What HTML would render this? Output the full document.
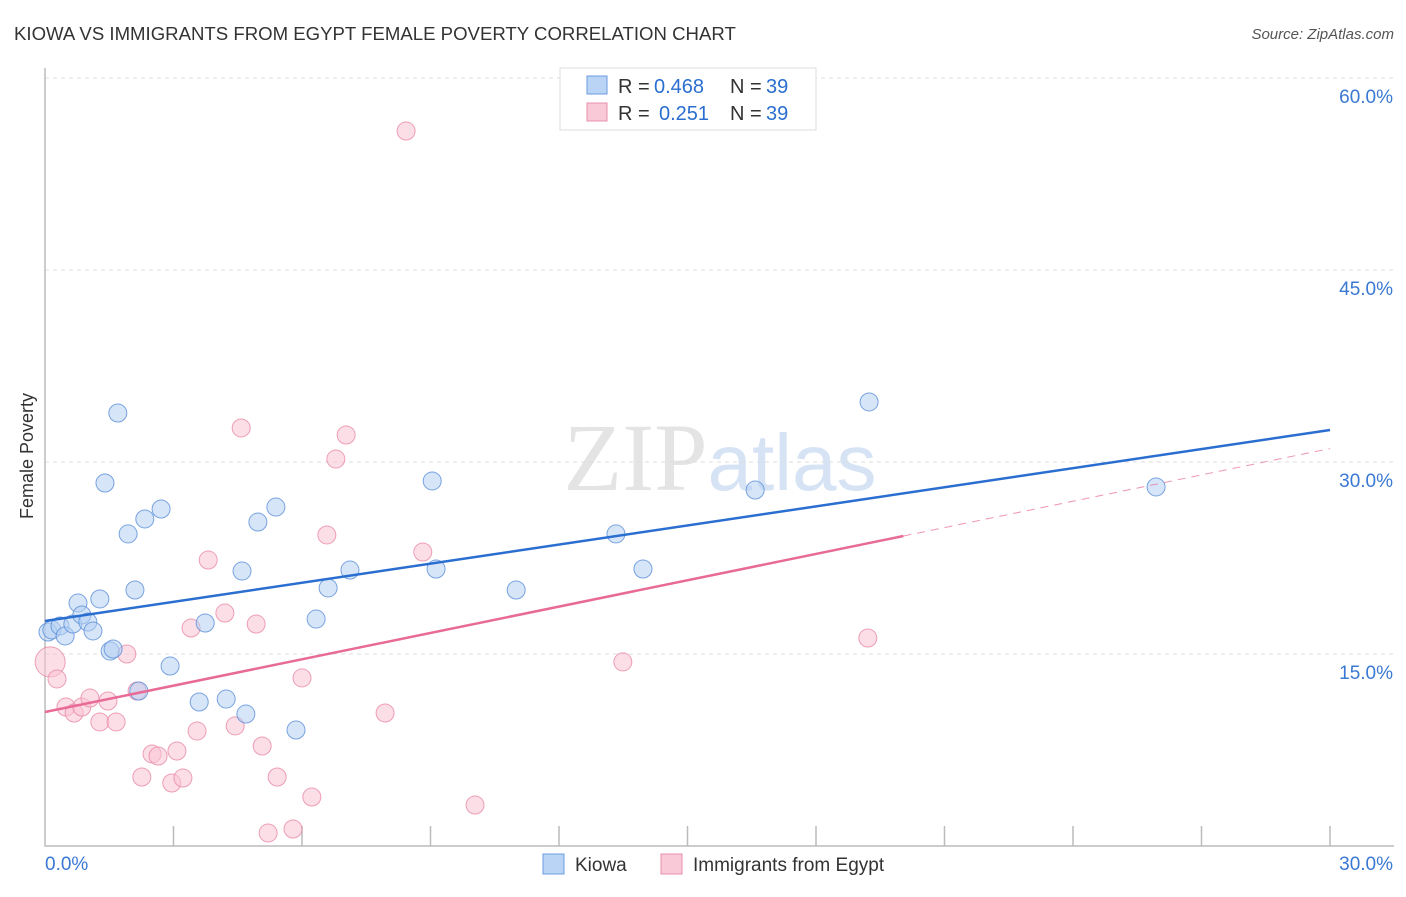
<!DOCTYPE html>
<html><head><meta charset="utf-8"><style>
body{margin:0;background:#fff;font-family:"Liberation Sans",sans-serif;}
svg text{font-family:"Liberation Sans",sans-serif;}
</style></head><body>
<svg id="chart" width="1406" height="892" xmlns="http://www.w3.org/2000/svg">
<text x="14" y="40" font-size="18.6" fill="#333">KIOWA VS IMMIGRANTS FROM EGYPT FEMALE POVERTY CORRELATION CHART</text>
<text x="1394" y="39" font-size="15" fill="#555" text-anchor="end" font-style="italic">Source: ZipAtlas.com</text>
<text x="720" y="490" font-size="96" text-anchor="middle" fill="#e4e4e4"><tspan font-family="Liberation Serif">ZIP</tspan><tspan fill="#d6e3f5" font-size="80">atlas</tspan></text>
<text transform="translate(33,456) rotate(-90)" font-size="18" fill="#333" text-anchor="middle">Female Poverty</text>
<g id="grid"></g><g id="axes"></g><g id="marks"></g>
<g>
<rect x="560" y="68" width="256" height="62" fill="#fff" stroke="#ddd"/>
<rect x="587" y="76" width="20" height="18" fill="#b9d4f5" stroke="#6a9be0"/>
<rect x="587" y="103" width="20" height="18" fill="#f9c9d7" stroke="#e890aa"/>
<text x="618" y="93" font-size="20" fill="#333">R =</text>
<text x="654" y="93" font-size="20" fill="#2a6ed0">0.468</text>
<text x="730" y="93" font-size="20" fill="#333">N =</text>
<text x="766" y="93" font-size="20" fill="#2a6ed0">39</text>
<text x="618" y="120" font-size="20" fill="#333">R =</text>
<text x="659" y="120" font-size="20" fill="#2a6ed0">0.251</text>
<text x="730" y="120" font-size="20" fill="#333">N =</text>
<text x="766" y="120" font-size="20" fill="#2a6ed0">39</text>
</g>
<g>
<rect x="543" y="854" width="21" height="20" fill="#b9d4f5" stroke="#6a9be0"/>
<text x="575" y="871" font-size="19" fill="#333">Kiowa</text>
<rect x="661" y="854" width="21" height="20" fill="#f9c9d7" stroke="#e890aa"/>
<text x="693" y="871" font-size="19" fill="#333">Immigrants from Egypt</text>
</g>
</svg>
<script>
const kiowaX=[0.07,0.16,0.35,0.47,0.65,0.77,0.86,1.00,1.12,1.28,1.40,1.52,1.59,1.70,1.94,2.10,2.19,2.33,2.71,2.92,3.60,3.74,4.23,4.60,4.69,4.97,5.39,5.86,6.33,6.61,7.12,9.04,9.13,11.00,13.33,13.96,16.58,19.24,25.94];
const kiowaY=[16.72,16.88,17.19,16.41,17.34,18.98,18.05,17.50,16.80,19.30,28.36,15.23,15.39,33.83,24.38,20.00,12.11,25.55,26.33,14.06,11.25,17.42,11.48,21.48,10.31,25.31,26.48,9.06,17.73,20.16,21.56,28.52,21.64,20.00,24.38,21.64,27.81,34.69,28.05];
const egyptX=[0.12,0.28,0.49,0.68,0.86,1.05,1.28,1.47,1.66,1.91,2.15,2.26,2.50,2.64,2.96,3.08,3.22,3.41,3.55,3.81,4.20,4.44,4.58,4.93,5.07,5.21,5.42,5.79,6.00,6.23,6.58,6.79,7.03,7.94,8.43,8.82,10.04,13.49,19.21];
const egyptY=[14.38,13.05,10.86,10.39,10.86,11.56,9.69,11.33,9.69,15.00,12.11,5.39,7.19,7.03,4.92,7.42,5.31,17.03,8.98,22.34,18.20,9.38,32.66,17.34,7.81,1.02,5.39,1.33,13.13,3.83,24.30,30.23,32.11,10.39,55.86,22.97,3.20,14.38,16.25];
const yTicks=[15,30,45,60];
const yTickLabels=["15.0%","30.0%","45.0%","60.0%"];
const kiowaTrend=[17.58,32.5];
const egyptTrend=[10.47,31.05];
const egyptSolidEnd=20.04;
const NS="http://www.w3.org/2000/svg";
const sx=v=>45+v/30*1285, sy=v=>846-v/15*192;
function mk(tag,attrs,parent){const e=document.createElementNS(NS,tag);for(const k in attrs)e.setAttribute(k,attrs[k]);document.getElementById(parent).appendChild(e);return e;}
yTicks.forEach((t,i)=>{
 const l=mk('line',{x1:45,x2:1394,y1:sy(t),y2:sy(t),stroke:'#ddd','stroke-dasharray':'4,4'},'grid');
 
 
 const tx=mk('text',{x:1393,y:sy(t)+25,'font-size':19,fill:'#3a78d4','text-anchor':'end'},'axes');
 tx.textContent=yTickLabels[i];
 
 
});
const ax=mk('path',{d:'M45,68 V846 H1394',fill:'none',stroke:'#bbb','stroke-width':1.5},'axes');


for(let i=1;i<=10;i++){const t=mk('line',{x1:sx(i*3),x2:sx(i*3),y1:826,y2:846,stroke:'#bbb','stroke-width':1.5},'axes');
 
 }
[['0.0%',45,'start'],['30.0%',1393,'end']].forEach(a=>{const t=mk('text',{x:a[1],y:870,'font-size':19,fill:'#3a78d4','text-anchor':a[2]},'axes');t.textContent=a[0];
 
 });
function pts(X,Y,fill,stroke,name){X.forEach((x,i)=>{const r=(name==='egypt-point'&&i===0)?15:9;
 const c=mk('circle',{cx:sx(x),cy:sy(Y[i]),r:r,fill:fill,'fill-opacity':0.55,stroke:stroke,'stroke-opacity':0.8,'stroke-width':1},'marks');
 
 });}
pts(egyptX,egyptY,'#f9c3d3','#e88aa6','egypt-point');
pts(kiowaX,kiowaY,'#b4d0f3','#5b8fd8','kiowa-point');
const kl=mk('line',{x1:sx(0),y1:sy(kiowaTrend[0]),x2:sx(30),y2:sy(kiowaTrend[1]),stroke:'#2a6ed0','stroke-width':2.5},'marks');


const slope=(egyptTrend[1]-egyptTrend[0])/30;
const el1=mk('line',{x1:sx(0),y1:sy(egyptTrend[0]),x2:sx(egyptSolidEnd),y2:sy(egyptTrend[0]+slope*egyptSolidEnd),stroke:'#e86a96','stroke-width':2.5},'marks');


const el2=mk('line',{x1:sx(egyptSolidEnd),y1:sy(egyptTrend[0]+slope*egyptSolidEnd),x2:sx(30),y2:sy(egyptTrend[1]),stroke:'#e86a96','stroke-width':1,'stroke-dasharray':'8,6','stroke-opacity':0.7},'marks');


</script>
</body></html>
